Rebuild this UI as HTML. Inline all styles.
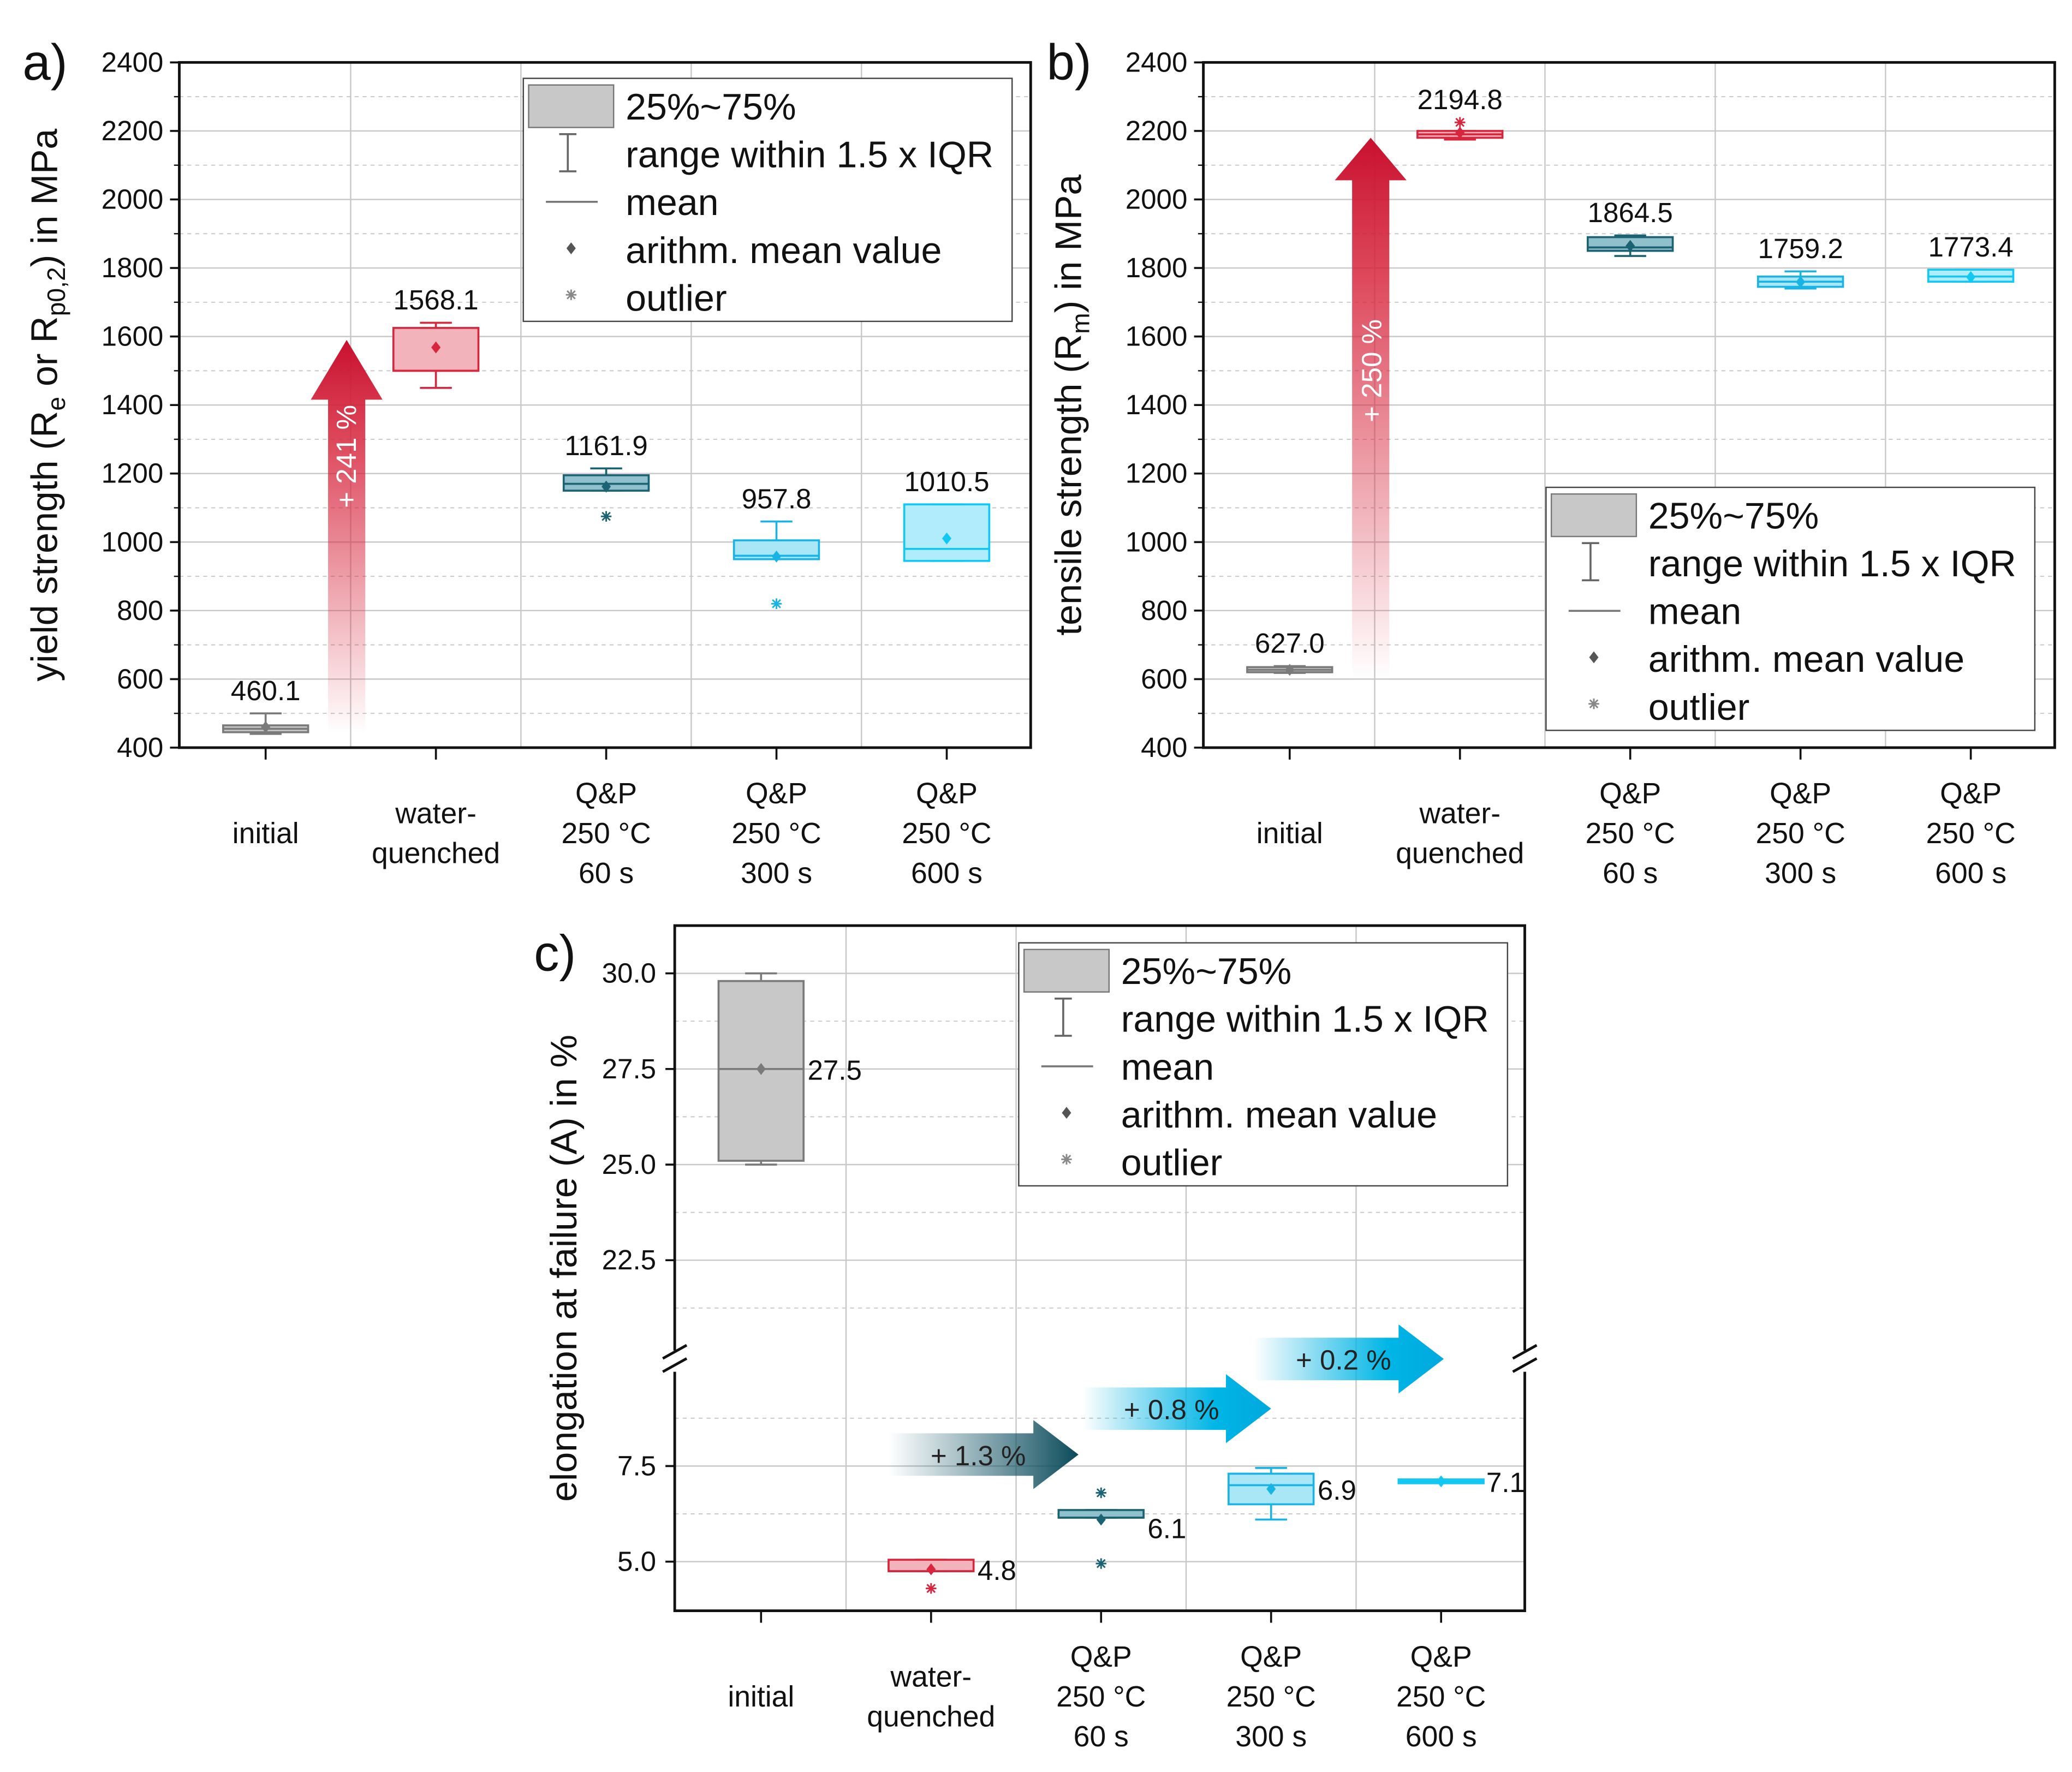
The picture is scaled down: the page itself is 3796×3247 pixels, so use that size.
<!DOCTYPE html>
<html><head><meta charset="utf-8"><style>
html,body{margin:0;padding:0;background:#fff;}
svg{display:block;font-family:"Liberation Sans",Arial,sans-serif;}
</style></head><body>
<svg id="fig" width="3796" height="3247" viewBox="0 0 1560 1334.4" preserveAspectRatio="none" xmlns="http://www.w3.org/2000/svg">
<defs>
<linearGradient id="gRed" x1="0" y1="1" x2="0" y2="0"><stop offset="0" stop-color="#d7263d" stop-opacity="0"/><stop offset="0.75" stop-color="#d7263d" stop-opacity="0.85"/><stop offset="1" stop-color="#c8102e"/></linearGradient>
<linearGradient id="gTeal" x1="0" y1="0" x2="1" y2="0"><stop offset="0" stop-color="#1b5e6e" stop-opacity="0"/><stop offset="1" stop-color="#0b4a5a"/></linearGradient>
<linearGradient id="gCyan" x1="0" y1="0" x2="1" y2="0"><stop offset="0" stop-color="#00b0e0" stop-opacity="0"/><stop offset="0.7" stop-color="#00b6e6"/><stop offset="1" stop-color="#00a8dd"/></linearGradient>
</defs>
</svg>
<script>
// ---- data ----
const categories = ["initial","water-\nquenched","Q&P\n250 °C\n60 s","Q&P\n250 °C\n300 s","Q&P\n250 °C\n600 s"];
const yieldMean = [460.1,1568.1,1161.9,957.8,1010.5];
const yieldQ1 = [445,1500,1150,950,945];
const yieldQ3 = [465,1625,1195,1005,1110];
const yieldMed = [455,1500,1170,960,980];
const yieldLo = [440,1450,1150,950,945];
const yieldHi = [500,1640,1215,1060,1110];
const yieldOut = [[],[],[1075],[820],[]];
const tensMean = [627.0,2194.8,1864.5,1759.2,1773.4];
const tensQ1 = [620,2180,1850,1745,1760];
const tensQ3 = [635,2200,1890,1775,1795];
const tensMed = [627,2190,1860,1760,1775];
const tensLo = [618,2175,1835,1740,1760];
const tensHi = [638,2200,1895,1790,1795];
const tensOut = [[],[2225],[],[],[]];
const elMean = [27.5,4.8,6.1,6.9,7.1];
const elQ1 = [25.1,4.75,6.15,6.5,7.05];
const elQ3 = [29.8,5.05,6.35,7.3,7.15];
const elMed = [27.5,4.75,6.15,7.0,7.1];
const elLo = [25.0,4.75,6.15,6.1,7.1];
const elHi = [30.0,5.05,6.35,7.45,7.1];
const elOut = [[],[4.3],[6.8,4.95],[],[]];
const elGain = ["+ 1.3 %","+ 0.8 %","+ 0.2 %"];
const strengthTicks = [400,600,800,1000,1200,1400,1600,1800,2000,2200,2400];
const elTopTicks = [22.5,25.0,27.5,30.0];
const elBotTicks = [5.0,7.5];

const fills = ["#c8c8c8","#f2b3bb","#8fc0cb","#a9e6f6","#b0ecfb"];
const strokes = ["#7a7a7a","#d7263d","#1b6373","#19b4e4","#10c8f2"];
const NS="http://www.w3.org/2000/svg";
const svg=document.getElementById('fig');
function el(tag,attrs,parent,text){const e=document.createElementNS(NS,tag);for(const k in attrs)e.setAttribute(k,attrs[k]);if(text!==undefined)e.textContent=text;(parent||svg).appendChild(e);return e;}

function star(g,x,y,c){el('path',{d:`M${x-4},${y}H${x+4}M${x},${y-4}V${y+4}M${x-3},${y-3}L${x+3},${y+3}M${x-3},${y+3}L${x+3},${y-3}`,stroke:c,'stroke-width':1.2,fill:'none'},g);}
function diamond(g,x,y,c){el('path',{d:`M${x},${y-4.5}L${x+3.5},${y}L${x},${y+4.5}L${x-3.5},${y}Z`,fill:c},g);}

function legend(x,y,name){
  const g=el('g',{});
  
  
  el('rect',{x:x,y:y,width:368,height:183,fill:'#fff',stroke:'#444','stroke-width':1},g);
  el('rect',{x:x+4,y:y+5,width:64,height:32,fill:'#c8c8c8',stroke:'#777'},g);
  el('path',{d:`M${x+27},${y+42}h13M${x+33.5},${y+42}v28M${x+27},${y+70}h13`,stroke:'#666','stroke-width':1.5,fill:'none'},g);
  el('path',{d:`M${x+17},${y+93}h39`,stroke:'#777','stroke-width':1.5},g);
  diamond(g,x+36,y+128,'#555'); star(g,x+36,y+163,'#888');
  const labs=["25%~75%","range within 1.5 x IQR","mean","arithm. mean value","outlier"];
  labs.forEach((t,i)=>{const tx=el('text',{x:x+77,y:y+31+i*36,'font-size':28,fill:'#111'},g,t);
    
    });
}

function catLabels(g,xs,yTop){
  categories.forEach((c,i)=>{const lines=c.split('\n');const n=lines.length;
    const y0 = n==1? yTop+32 : n==2? yTop+17 : yTop+2;
    lines.forEach((l,j)=>{const t=el('text',{x:xs[i],y:y0+j*30,'font-size':22,'text-anchor':'middle',fill:'#111'},g,l);
      
      });});
}

function boxes(g,xs,Y,mean,q1,q3,med,lo,hi,out,labPos,fmt){
  for(let i=0;i<5;i++){
    const x=xs[i],hw=32,c=strokes[i];
    const bg=el('g',{},g);
    
    
    el('path',{d:`M${x},${Y(hi[i])}V${Y(q3[i])}M${x},${Y(q1[i])}V${Y(lo[i])}M${x-12},${Y(hi[i])}h24M${x-12},${Y(lo[i])}h24`,stroke:c,'stroke-width':1.5,fill:'none'},bg);
    const h=Math.max(Y(q1[i])-Y(q3[i]),2);
    el('rect',{x:x-hw,y:Y(q3[i]),width:hw*2,height:h,fill:fills[i],stroke:c,'stroke-width':1.5},bg);
    el('path',{d:`M${x-hw},${Y(med[i])}h${hw*2}`,stroke:c,'stroke-width':1.5},bg);
    diamond(bg,x,Y(mean[i]),c);
    out[i].forEach(v=>star(bg,x,Y(v),c));
    const lp=labPos(i,x,Y);
    const t=el('text',{x:lp[0],y:lp[1],'font-size':21,'text-anchor':lp[2],fill:'#111'},bg,fmt(mean[i]));
    
    
  }
}

function strengthPanel(px,label,title,mean,q1,q3,med,lo,hi,out,name){
  const X0=px,X1=px+641,T=47,B=563;
  const Y=v=>B-(v-400)/2000*(B-T);
  const xs=[0,1,2,3,4].map(i=>X0+65+i*128.2);
  const g=el('g',{});
  
  
  for(let v=500;v<2400;v+=200) el('path',{d:`M${X0},${Y(v)}H${X1}`,stroke:'#c8c8c8','stroke-dasharray':'3,3','stroke-width':0.8},g);
  strengthTicks.forEach(v=>{if(v>400&&v<2400) el('path',{d:`M${X0},${Y(v)}H${X1}`,stroke:'#c8c8c8','stroke-width':1},g);});
  for(let i=0;i<4;i++) el('path',{d:`M${xs[i]+64},${T}V${B}`,stroke:'#c8c8c8','stroke-width':1},g);
  el('rect',{x:X0,y:T,width:X1-X0,height:B-T,fill:'none',stroke:'#111','stroke-width':2},g);
  strengthTicks.forEach(v=>{el('path',{d:`M${X0-7},${Y(v)}H${X0}`,stroke:'#111','stroke-width':1.5},g);
    const t=el('text',{x:X0-12,y:Y(v)+7,'font-size':21,'text-anchor':'end',fill:'#111'},g,v);
    
    });
  for(let v=500;v<2400;v+=200) el('path',{d:`M${X0-4},${Y(v)}H${X0}`,stroke:'#111'},g);
  xs.forEach(x=>el('path',{d:`M${x},${B}v9`,stroke:'#111','stroke-width':1.5},g));
  catLabels(g,xs,B+40);
  const pl=el('text',{x:px-118,y:T+13,'font-size':38,fill:'#111'},g,label);
  
  
  const yt=el('text',{transform:`translate(${px-92},${(T+B)/2}) rotate(-90)`,'font-size':28,'text-anchor':'middle',fill:'#111'},g);
  
  
  yt.innerHTML=title;
  boxes(g,xs,Y,mean,q1,q3,med,lo,hi,out,(i,x,Y)=>[x,Y(Math.max(hi[i],q3[i],...out[i]))-10,'middle'],v=>v.toFixed(1));
  return {g,xs,Y};
}

const pa=strengthPanel(135,'a)','yield strength (R<tspan font-size="19" dy="6">e</tspan><tspan dy="-6"> or R</tspan><tspan font-size="19" dy="6">p0,2</tspan><tspan dy="-6">) in MPa</tspan>',yieldMean,yieldQ1,yieldQ3,yieldMed,yieldLo,yieldHi,yieldOut,'panel-a-yield');
(function(){const x=261,yb=pa.Y(440),yt=pa.Y(1590);
  const a=el('path',{d:`M${x-14},${yb}V${yt+45}H${x-27}L${x},${yt}L${x+27},${yt+45}H${x+14}V${yb}Z`,fill:'url(#gRed)'});
  
  
  el('text',{transform:`translate(${x+7},${pa.Y(1250)}) rotate(-90)`,'font-size':21,fill:'#fff','text-anchor':'middle'},svg,'+ 241 %');})();
legend(394,59,'legend-a');

const pb=strengthPanel(906,'b)','tensile strength (R<tspan font-size="19" dy="6">m</tspan><tspan dy="-6">) in MPa</tspan>',tensMean,tensQ1,tensQ3,tensMed,tensLo,tensHi,tensOut,'panel-b-tensile');
(function(){const x=1032,yb=pb.Y(600),yt=pb.Y(2180);
  const a=el('path',{d:`M${x-14},${yb}V${yt+32}H${x-27}L${x},${yt}L${x+27},${yt+32}H${x+14}V${yb}Z`,fill:'url(#gRed)'});
  
  
  el('text',{transform:`translate(${x+8},${pb.Y(1500)}) rotate(-90)`,'font-size':21,fill:'#fff','text-anchor':'middle'},svg,'+ 250 %');})();
legend(1164,367,'legend-b');

(function(){
  const X0=508,X1=1148,T=697,B=1213,BRK=1025;
  const Yt=v=>733+(30-v)*28.8;
  const Yb=v=>1104+(7.5-v)*28.8;
  const Y=v=>v>15?Yt(v):Yb(v);
  const xs=[0,1,2,3,4].map(i=>X0+65+i*128);
  const g=el('g',{});
  
  
  [21.25,23.75,26.25,28.75].forEach(v=>el('path',{d:`M${X0},${Yt(v)}H${X1}`,stroke:'#c8c8c8','stroke-dasharray':'3,3','stroke-width':0.8},g));
  [6.25,8.75].forEach(v=>el('path',{d:`M${X0},${Yb(v)}H${X1}`,stroke:'#c8c8c8','stroke-dasharray':'3,3','stroke-width':0.8},g));
  elTopTicks.forEach(v=>el('path',{d:`M${X0},${Yt(v)}H${X1}`,stroke:'#c8c8c8'},g));
  elBotTicks.forEach(v=>el('path',{d:`M${X0},${Yb(v)}H${X1}`,stroke:'#c8c8c8'},g));
  for(let i=0;i<4;i++) el('path',{d:`M${xs[i]+64},${T}V${B}`,stroke:'#c8c8c8'},g);
  el('path',{d:`M${X0},${BRK-8}V${T}H${X1}V${BRK-8}M${X0},${BRK+8}V${B}H${X1}V${BRK+8}`,stroke:'#111','stroke-width':2,fill:'none'},g);
  [X0,X1].forEach(x=>el('path',{d:`M${x-9},${BRK-2}l18,-10M${x-9},${BRK+8}l18,-10`,stroke:'#111','stroke-width':2},g));
  elTopTicks.forEach(v=>{el('path',{d:`M${X0-7},${Yt(v)}H${X0}`,stroke:'#111','stroke-width':1.5},g);
    const t=el('text',{x:X0-14,y:Yt(v)+7,'font-size':21,'text-anchor':'end',fill:'#111'},g,v.toFixed(1));
    
    });
  elBotTicks.forEach(v=>{el('path',{d:`M${X0-7},${Yb(v)}H${X0}`,stroke:'#111','stroke-width':1.5},g);
    const t=el('text',{x:X0-14,y:Yb(v)+7,'font-size':21,'text-anchor':'end',fill:'#111'},g,v.toFixed(1));
    
    });
  xs.forEach(x=>el('path',{d:`M${x},${B}v9`,stroke:'#111','stroke-width':1.5},g));
  catLabels(g,xs,B+40);
  const pl=el('text',{x:402,y:731,'font-size':38,fill:'#111'},g,'c)');
  
  
  const yt=el('text',{transform:`translate(434,955) rotate(-90)`,'font-size':28,'text-anchor':'middle',fill:'#111'},g,'elongation at failure (A) in %');
  
  
  const arrows=[[669,812,'url(#gTeal)',Yb(7.8)],[815,957,'url(#gCyan)',Yb(9.0)],[944,1087,'url(#gCyan)',Yb(10.3)]];
  arrows.forEach((a,i)=>{const [x0,x1,f,yc]=a;
    const p=el('path',{d:`M${x0},${yc-16}H${x1-34}V${yc-26}L${x1},${yc}L${x1-34},${yc+26}V${yc+16}H${x0}Z`,fill:f},g);
    
    
    el('text',{x:(x0+x1)/2-4,y:yc+8,'font-size':21,'text-anchor':'middle',fill:'#222'},g,elGain[i]);});
  boxes(g,xs,Y,elMean,elQ1,elQ3,elMed,elLo,elHi,elOut,(i,x,Y)=>[x+(i==4?34:35),Y(elMean[i])+8+(i==2?6:0),'start'],v=>v.toFixed(1));
})();
legend(767,710,'legend-c');
</script>
</body></html>
